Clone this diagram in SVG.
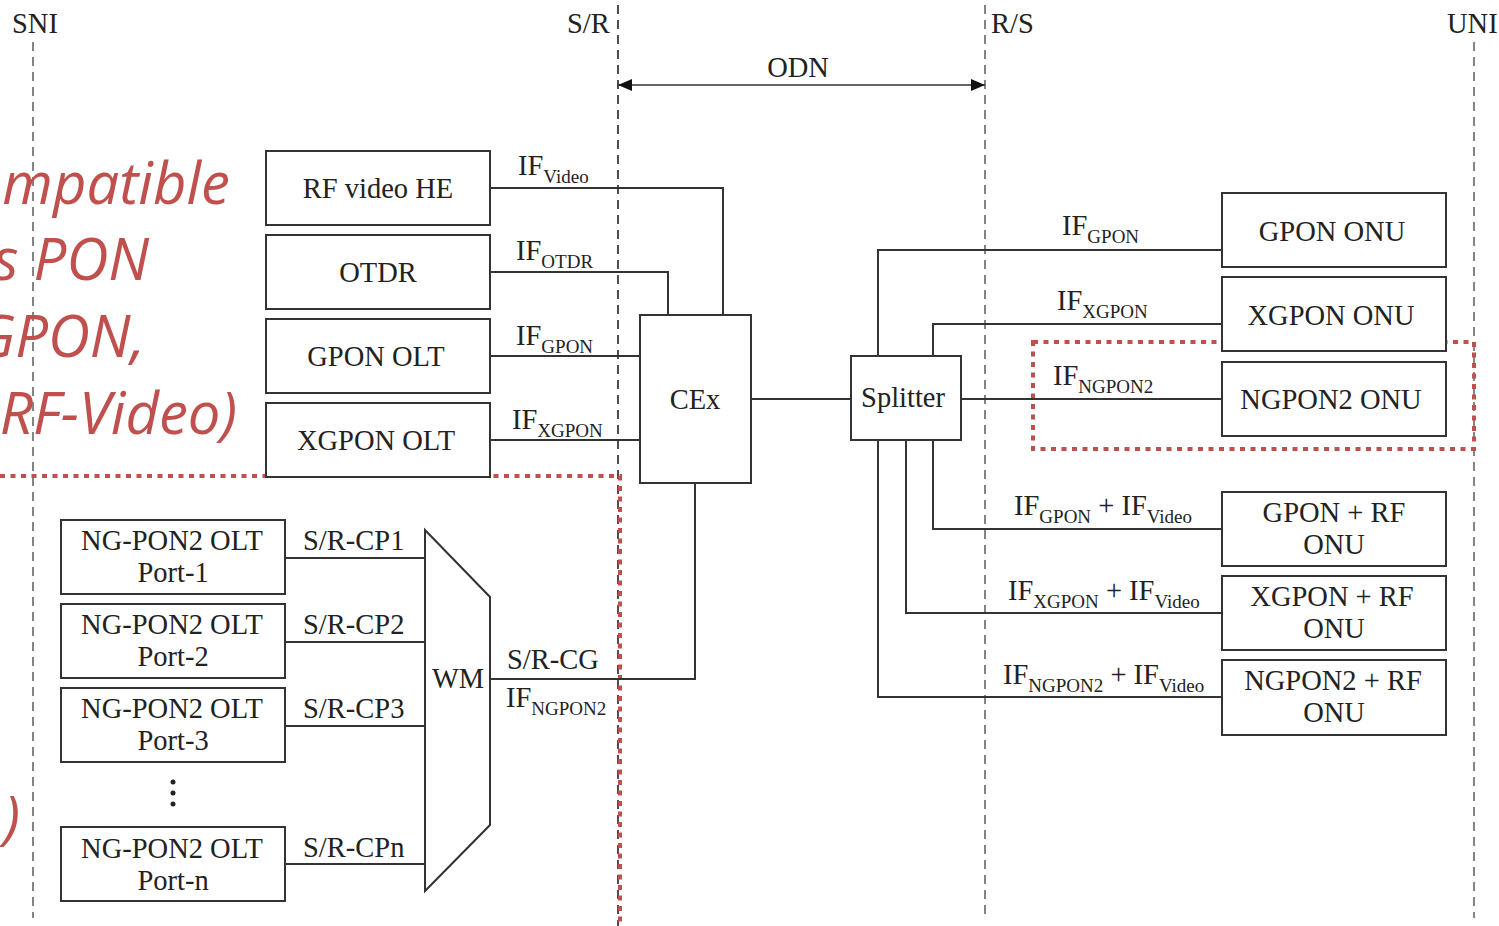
<svg xmlns="http://www.w3.org/2000/svg" width="1499" height="926" viewBox="0 0 1499 926">
<style>
.bx{fill:#fff;stroke:#333;stroke-width:2}
.ln{fill:none;stroke:#333;stroke-width:2}
.t{font-family:"Liberation Serif","Times New Roman",serif;font-size:28.5px;fill:#222}
.c{text-anchor:middle}
.s{font-size:19px}
.dash{stroke:#666;stroke-width:1.6;stroke-dasharray:9 6;fill:none}
.red{fill:none;stroke:#C0504D;stroke-width:4;stroke-dasharray:5 5.5}
.rt{font-family:"Open Sans","Noto Sans",sans-serif;font-style:italic;font-size:58px;fill:#C0504D;text-anchor:end}
</style>
<defs>
<marker id="ah" viewBox="0 0 14 12" refX="14" refY="6" markerWidth="14" markerHeight="12" markerUnits="userSpaceOnUse" orient="auto-start-reverse">
<path d="M0,0 L14,6 L0,12 Z" fill="#111"/>
</marker>
</defs>
<rect width="1499" height="926" fill="#fff"/>

<g id="reference-lines">
<line class="dash" x1="33" y1="42" x2="33" y2="918"/>
<line class="dash" x1="618" y1="5" x2="618" y2="926" style="stroke:#222"/>
<line class="dash" x1="985" y1="5" x2="985" y2="918"/>
<line class="dash" x1="1474" y1="42" x2="1474" y2="918"/>
<text class="t" x="12" y="33">SNI</text>
<text class="t" x="567" y="33">S/R</text>
<text class="t" x="991" y="33">R/S</text>
<text class="t" x="1447" y="33">UNI</text>
<line x1="618" y1="85" x2="985" y2="85" stroke="#333" stroke-width="1.6" marker-start="url(#ah)" marker-end="url(#ah)"/>
<text class="t c" x="798" y="77">ODN</text>
</g>

<g id="red-annotation">
<text class="rt" x="230" y="204">mpatible</text>
<text class="rt" x="149" y="280">s PON</text>
<text class="rt" x="145" y="357">GPON,</text>
<text class="rt" x="237" y="434">RF-Video)</text>
<text class="rt" x="20" y="838">)</text>
<path class="red" d="M0,476 H620 V926"/>
<rect class="red" x="1033" y="342" width="441" height="107"/>
</g>

<g id="connectors">
<path class="ln" d="M490,188 H723 V315"/>
<path class="ln" d="M490,272 H668 V315"/>
<path class="ln" d="M490,356 H640"/>
<path class="ln" d="M490,440 H640"/>
<path class="ln" d="M751,399 H851"/>
<path class="ln" d="M878,356 V250 H1222"/>
<path class="ln" d="M933,356 V324 H1222"/>
<path class="ln" d="M961,399 H1222"/>
<path class="ln" d="M933,440 V529 H1222"/>
<path class="ln" d="M906,440 V613 H1222"/>
<path class="ln" d="M878,440 V697 H1222"/>
<path class="ln" d="M285,558 H425"/>
<path class="ln" d="M285,642 H425"/>
<path class="ln" d="M285,726 H425"/>
<path class="ln" d="M285,864 H425"/>
<path class="ln" d="M490,679 H695 V483"/>
<text class="t" x="518" y="175">IF<tspan class="s" dy="8">Video</tspan></text>
<text class="t" x="516" y="260">IF<tspan class="s" dy="8">OTDR</tspan></text>
<text class="t" x="516" y="345">IF<tspan class="s" dy="8">GPON</tspan></text>
<text class="t" x="512" y="429">IF<tspan class="s" dy="8">XGPON</tspan></text>
<text class="t" x="1062" y="235">IF<tspan class="s" dy="8">GPON</tspan></text>
<text class="t" x="1057" y="310">IF<tspan class="s" dy="8">XGPON</tspan></text>
<text class="t" x="1053" y="385">IF<tspan class="s" dy="8">NGPON2</tspan></text>
<text class="t" x="1014" y="515">IF<tspan class="s" dy="8">GPON</tspan><tspan dy="-8"> + IF</tspan><tspan class="s" dy="8">Video</tspan></text>
<text class="t" x="1008" y="600">IF<tspan class="s" dy="8">XGPON</tspan><tspan dy="-8"> + IF</tspan><tspan class="s" dy="8">Video</tspan></text>
<text class="t" x="1003" y="684">IF<tspan class="s" dy="8">NGPON2</tspan><tspan dy="-8"> + IF</tspan><tspan class="s" dy="8">Video</tspan></text>
<text class="t" x="303" y="550">S/R-CP1</text>
<text class="t" x="303" y="634">S/R-CP2</text>
<text class="t" x="303" y="718">S/R-CP3</text>
<text class="t" x="303" y="857">S/R-CPn</text>
<text class="t" x="507" y="669">S/R-CG</text>
<text class="t" x="506" y="707">IF<tspan class="s" dy="8">NGPON2</tspan></text>
</g>

<g id="rf-video-he"><rect class="bx" x="266" y="151" width="224" height="74"/><text class="t c" x="378" y="198">RF video HE</text></g>
<g id="otdr"><rect class="bx" x="266" y="235" width="224" height="74"/><text class="t c" x="378" y="282">OTDR</text></g>
<g id="gpon-olt"><rect class="bx" x="266" y="319" width="224" height="74"/><text class="t c" x="376" y="366">GPON OLT</text></g>
<g id="xgpon-olt"><rect class="bx" x="266" y="403" width="224" height="74"/><text class="t c" x="376" y="450">XGPON OLT</text></g>

<g id="cex"><rect class="bx" x="640" y="315" width="111" height="168"/><text class="t c" x="695" y="409">CEx</text></g>
<g id="splitter"><rect class="bx" x="851" y="356" width="110" height="84"/><text class="t c" x="903" y="407">Splitter</text></g>

<g id="gpon-onu"><rect class="bx" x="1222" y="193" width="224" height="74"/><text class="t c" x="1332" y="241">GPON ONU</text></g>
<g id="xgpon-onu"><rect class="bx" x="1222" y="277" width="224" height="74"/><text class="t c" x="1331" y="325">XGPON ONU</text></g>
<g id="ngpon2-onu"><rect class="bx" x="1222" y="362" width="224" height="74"/><text class="t c" x="1331" y="409">NGPON2 ONU</text></g>
<g id="gpon-rf-onu"><rect class="bx" x="1222" y="492" width="224" height="74"/><text class="t c" x="1334" y="522">GPON + RF</text><text class="t c" x="1334" y="554">ONU</text></g>
<g id="xgpon-rf-onu"><rect class="bx" x="1222" y="576" width="224" height="74"/><text class="t c" x="1332" y="606">XGPON + RF</text><text class="t c" x="1334" y="638">ONU</text></g>
<g id="ngpon2-rf-onu"><rect class="bx" x="1222" y="660" width="224" height="75"/><text class="t c" x="1333" y="690">NGPON2 + RF</text><text class="t c" x="1334" y="722">ONU</text></g>

<g id="olt-port-1"><rect class="bx" x="61" y="520" width="224" height="74"/><text class="t c" x="172" y="550">NG-PON2 OLT</text><text class="t c" x="173" y="582">Port-1</text></g>
<g id="olt-port-2"><rect class="bx" x="61" y="604" width="224" height="74"/><text class="t c" x="172" y="634">NG-PON2 OLT</text><text class="t c" x="173" y="666">Port-2</text></g>
<g id="olt-port-3"><rect class="bx" x="61" y="688" width="224" height="74"/><text class="t c" x="172" y="718">NG-PON2 OLT</text><text class="t c" x="173" y="750">Port-3</text></g>
<g id="ellipsis"><circle cx="173" cy="782" r="2.5" fill="#222"/><circle cx="173" cy="793" r="2.5" fill="#222"/><circle cx="173" cy="804" r="2.5" fill="#222"/></g>
<g id="olt-port-n"><rect class="bx" x="61" y="827" width="224" height="74"/><text class="t c" x="172" y="858">NG-PON2 OLT</text><text class="t c" x="173" y="890">Port-n</text></g>

<g id="wm"><path class="bx" d="M425,530 L490,597 L490,825 L425,891 Z"/><text class="t c" x="458" y="688">WM</text></g>
</svg>
